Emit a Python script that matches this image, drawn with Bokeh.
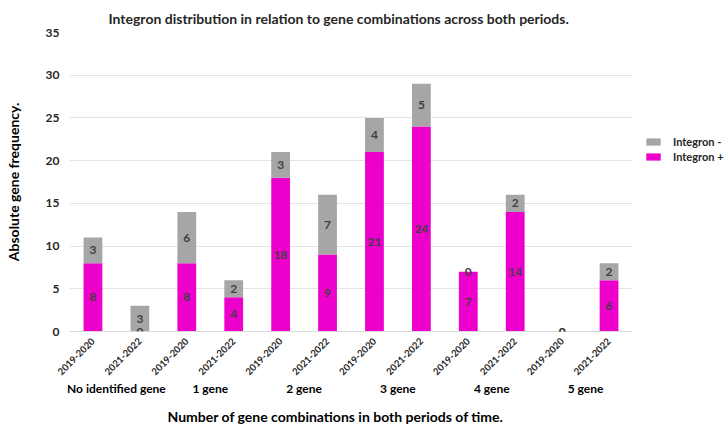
import math
from bokeh.plotting import figure
from bokeh.layouts import row
from bokeh.core.properties import value
from bokeh.models import (ColumnDataSource, FactorRange, Legend, LegendItem,
                          LabelSet, Title)
from bokeh.embed import file_html
from bokeh.resources import INLINE

# Gene-combination groups and sampling periods
groups = ["No identified gene", "1 gene", "2 gene", "3 gene", "4 gene", "5 gene"]
periods = ["2019-2020", "2021-2022"]

# Counts per (group, period), in the order of the factors below
integron_pos = [8, 0, 8, 4, 18, 9, 21, 24, 7, 14, 0, 6]
integron_neg = [3, 3, 6, 2, 3, 7, 4, 5, 0, 2, 0, 2]

FONT = "Lato"
POS_COLOR = "#EE00CC"
NEG_COLOR = "#A6A6A6"
TEXT_DARK = "#262626"

factors = [(g, per) for g in groups for per in periods]

src = ColumnDataSource(dict(
    x=factors,
    pos=integron_pos,
    neg=integron_neg,
    pos_lbl=[str(v) for v in integron_pos],
    neg_lbl=[str(v) for v in integron_neg],
    pos_mid=[v / 2 for v in integron_pos],
    neg_mid=[p + n / 2 for p, n in zip(integron_pos, integron_neg)],
))

x_range = FactorRange(*factors, range_padding=0, group_padding=0)

p = figure(
    width=632, height=430,
    x_range=x_range, y_range=(0, 35),
    output_backend="svg", toolbar_location=None,
    min_border_left=69, min_border_right=0,
    min_border_top=32, min_border_bottom=99,
    outline_line_color=None,
)

p.title = Title(
    text="Integron distribution in relation to gene combinations across both periods.",
    align="left", offset=39, standoff=11,
    text_font=FONT, text_font_size="14px",
    text_font_style="bold", text_color=TEXT_DARK,
)

stack = p.vbar_stack(["pos", "neg"], x="x", width=0.4, source=src,
                     color=[POS_COLOR, NEG_COLOR], line_color=None)

# Segment value labels
for col, mid in (("pos_lbl", "pos_mid"), ("neg_lbl", "neg_mid")):
    p.add_layout(LabelSet(
        x="x", y=mid, text=col, source=src,
        text_align="center", text_baseline="middle",
        text_font=value(FONT), text_font_size=value("12px"),
        text_font_style=value("bold"), text_color="#404040",
    ))

# Y axis
p.yaxis.ticker = list(range(0, 36, 5))
p.yaxis.axis_line_color = None
p.yaxis.major_tick_line_color = None
p.yaxis.major_tick_out = 0
p.yaxis.minor_tick_line_color = None
p.yaxis.major_label_standoff = 10
p.yaxis.major_label_text_font = FONT
p.yaxis.major_label_text_font_size = "12px"
p.yaxis.major_label_text_font_style = "bold"
p.yaxis.major_label_text_color = TEXT_DARK
p.yaxis.axis_label = "Absolute gene frequency."
p.yaxis.axis_label_text_font = FONT
p.yaxis.axis_label_text_font_size = "14px"
p.yaxis.axis_label_text_font_style = "bold"
p.yaxis.axis_label_text_color = "#000000"
p.yaxis.axis_label_standoff = 21

# X axis (nested categories)
p.xaxis.axis_line_color = "#D9D9D9"
p.xaxis.major_tick_line_color = None
p.xaxis.major_tick_out = 8
p.xaxis.minor_tick_line_color = None
p.xaxis.major_label_orientation = math.pi / 4
p.xaxis.major_label_standoff = 0
p.xaxis.major_label_text_font = FONT
p.xaxis.major_label_text_font_size = "9.5px"
p.xaxis.major_label_text_font_style = "bold"
p.xaxis.major_label_text_color = TEXT_DARK
p.xaxis.group_text_font = FONT
p.xaxis.group_text_font_size = "12px"
p.xaxis.group_text_font_style = "bold"
p.xaxis.group_text_color = "#000000"
p.xaxis.separator_line_alpha = 0

p.add_layout(Title(
    text="Number of gene combinations in both periods of time.",
    align="left", offset=98, standoff=12,
    text_font=FONT, text_font_size="14px",
    text_font_style="bold", text_color="#000000",
), "below")

p.xgrid.grid_line_color = None
p.ygrid.grid_line_color = "#E3E3E3"

# Legend lives in a narrow companion panel to the right of the chart;
# its frame lines up with the chart's frame inside the row.
lg = figure(
    width=92, height=430, x_range=x_range, y_range=(0, 35),
    x_axis_type=None, y_axis_type=None,
    output_backend="svg", toolbar_location=None,
    min_border_left=0, min_border_right=0,
    min_border_top=32, min_border_bottom=99,
    outline_line_color=None,
)
lg.grid.visible = False
sw = lg.vbar_stack(["pos", "neg"], x="x", width=0.4, source=src,
                   color=[POS_COLOR, NEG_COLOR], line_color=None)
for r in sw:
    r.visible = False

legend = Legend(
    items=[LegendItem(label="Integron -", renderers=[sw[1]]),
           LegendItem(label="Integron +", renderers=[sw[0]])],
    location=(12, 167), orientation="vertical",
    padding=0, margin=0, spacing=0, label_standoff=11,
    glyph_width=18, glyph_height=9, label_height=15,
    label_text_font=FONT, label_text_font_size="11px",
    label_text_font_style="bold", label_text_color=TEXT_DARK,
    background_fill_alpha=0, border_line_color=None,
)
lg.add_layout(legend)

layout = row(p, lg, spacing=0)
open("out.html", "w").write(file_html(layout, INLINE))
